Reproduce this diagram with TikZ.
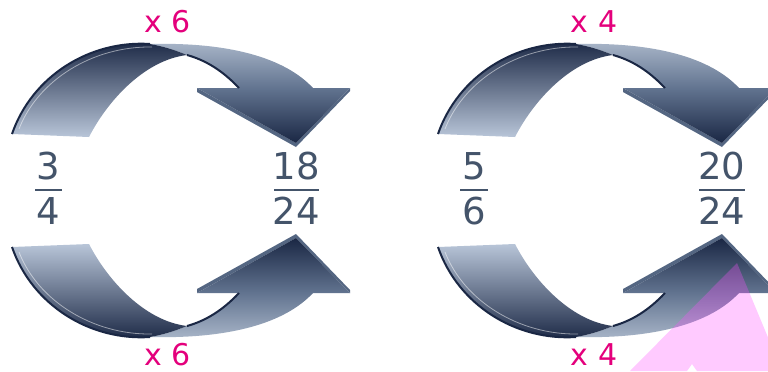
\documentclass[tikz,border=0pt]{standalone}
\usepackage{fontspec}
\setmainfont{DejaVu Sans}
\usetikzlibrary{positioning}
\definecolor{inknavy}{RGB}{26,39,68}
\definecolor{palesteel}{RGB}{184,197,216}
\definecolor{midsteel}{RGB}{98,116,144}
\definecolor{lightsteel}{RGB}{168,181,200}
\definecolor{edgesteel}{RGB}{84,102,130}
\definecolor{numslate}{RGB}{68,84,106}
\definecolor{factorpink}{RGB}{228,0,124}
\definecolor{veilpink}{RGB}{255,80,255}

\tikzset{
  leftband/.style={top color=inknavy, bottom color=palesteel},
  rightband/.style={top color=lightsteel, bottom color=midsteel},
  headband/.style={top color=midsteel, bottom color=inknavy},
  rimline/.style={draw=inknavy, line width=1pt},
  numtext/.style={text=numslate, font=\fontsize{18.5}{20}\selectfont, inner sep=0pt, anchor=base},
  factortext/.style={text=factorpink, font=\fontsize{15}{17}\selectfont, inner sep=0pt, anchor=base},
  fracbar/.style={draw=numslate, line width=1pt},
}

\begin{document}
\begin{tikzpicture}[x=0.5pt, y=-0.5pt]
    \clip (0,0) rectangle (768,371);
    \fill[white] (0,0) rectangle (768,371);

    % Twisted arrows, upper one and its mirror image below
    \foreach \dx in {0,426} {
      \foreach \oy/\sy/\ang in {0/1/0, 381/-1/180} {
        \begin{scope}[shift={(\dx,\oy)}, yscale=\sy]
          % arrow head with its edge
          \fill[edgesteel] (197,88) -- (296,143) -- (350,88) -- (350,91) -- (296,147) -- (197,92) -- cycle;
          \shade[headband, shading angle=\ang] (197,88) -- (350,88) -- (296,143) -- cycle;
          % back of the ribbon
          \shade[rightband, shading angle=\ang] (150,44) .. controls (230,42) and (285,58) .. (313,88)
            -- (239,88) .. controls (222,70) and (205,60) .. (187,55)
            .. controls (175,50) and (162,46) .. (150,44) -- cycle;
          % front of the ribbon
          \shade[leftband, shading angle=\ang] (12,134) .. controls (32,76) and (90,40) .. (150,44)
            .. controls (162,46) and (175,50) .. (187,55)
            .. controls (145,60) and (108,100) .. (89,137) -- cycle;
          \draw[rimline] (12,134) .. controls (32,76) and (90,40) .. (150,44);
          \draw[rimline] (187,55) .. controls (205,60) and (222,70) .. (239,88);
          \draw[white, opacity=0.5, line width=0.4pt] (19,129) .. controls (38,80) and (93,46) .. (152,47);
        \end{scope}
      }
    }

    % Fractions
    \node[numtext] (numA) at (48,179) {3};
    \node[numtext] (denA) at (48,224) {4};
    \draw[fracbar] (35,190) -- (62,190);
    \node[numtext] (numB) at (296.5,179) {18};
    \node[numtext] (denB) at (296.5,224) {24};
    \draw[fracbar] (274,190) -- (319,190);
    \node[numtext] (numC) at (474,179) {5};
    \node[numtext] (denC) at (474,224) {6};
    \draw[fracbar] (460,190) -- (488,190);
    \node[numtext] (numD) at (722,179) {20};
    \node[numtext] (denD) at (722,224) {24};
    \draw[fracbar] (699,190) -- (745,190);

    % Factors
    \node[factortext] (facAtop) at (167.5,32) {x 6};
    \node[factortext] (facAbot) at (167.5,365) {x 6};
    \node[factortext] (facBtop) at (594,32) {x 4};
    \node[factortext] (facBbot) at (594,365) {x 4};

    % Pink veil in the corner
    \fill[veilpink, opacity=0.3] (630,371) -- (737,263) -- (782,371) -- (697,371) -- (692,364) -- (687,371) -- cycle;
\end{tikzpicture}
\end{document}
